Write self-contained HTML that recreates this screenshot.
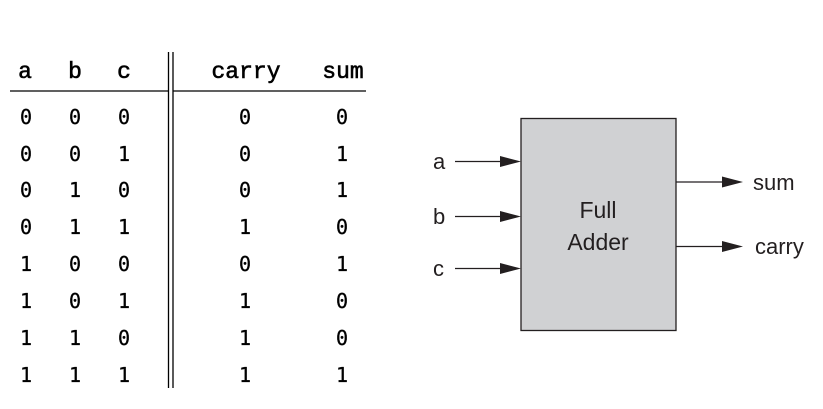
<!DOCTYPE html>
<html><head><meta charset="utf-8"><style>html,body{margin:0;padding:0;background:#fff}</style></head>
<body>
<svg width="823" height="404" xmlns="http://www.w3.org/2000/svg">
<g font-family="Liberation Mono, monospace" font-size="23" fill="#000" stroke="#000" stroke-width="0.6">
<text x="25" y="78" text-anchor="middle">a</text>
<text x="75" y="78" text-anchor="middle">b</text>
<text x="124" y="78" text-anchor="middle">c</text>
<text x="246" y="78" text-anchor="middle">carry</text>
<text x="343" y="78" text-anchor="middle">sum</text>
</g>
<line x1="10" y1="91" x2="168" y2="91" stroke="#000" stroke-width="1.3"/>
<line x1="173" y1="91" x2="366" y2="91" stroke="#000" stroke-width="1.3"/>
<line x1="168.5" y1="52" x2="168.5" y2="388" stroke="#000" stroke-width="1.3"/>
<line x1="173" y1="52" x2="173" y2="388" stroke="#000" stroke-width="1.3"/>
<g font-family="DejaVu Sans Mono, monospace" font-size="20" fill="#000" text-anchor="middle" stroke="#000" stroke-width="0.3">
<text x="26" y="124">0</text><text x="75" y="124">0</text><text x="124" y="124">0</text><text x="245" y="124">0</text><text x="342" y="124">0</text>
<text x="26" y="161">0</text><text x="75" y="161">0</text><text x="124" y="161">1</text><text x="245" y="161">0</text><text x="342" y="161">1</text>
<text x="26" y="197">0</text><text x="75" y="197">1</text><text x="124" y="197">0</text><text x="245" y="197">0</text><text x="342" y="197">1</text>
<text x="26" y="234">0</text><text x="75" y="234">1</text><text x="124" y="234">1</text><text x="245" y="234">1</text><text x="342" y="234">0</text>
<text x="26" y="271">1</text><text x="75" y="271">0</text><text x="124" y="271">0</text><text x="245" y="271">0</text><text x="342" y="271">1</text>
<text x="26" y="308">1</text><text x="75" y="308">0</text><text x="124" y="308">1</text><text x="245" y="308">1</text><text x="342" y="308">0</text>
<text x="26" y="345">1</text><text x="75" y="345">1</text><text x="124" y="345">0</text><text x="245" y="345">1</text><text x="342" y="345">0</text>
<text x="26" y="382">1</text><text x="75" y="382">1</text><text x="124" y="382">1</text><text x="245" y="382">1</text><text x="342" y="382">1</text>
</g>
<rect x="521" y="118.5" width="155" height="212" fill="#d0d1d3" stroke="#231f20" stroke-width="1.3"/>
<g font-family="Liberation Sans, sans-serif" font-size="23" fill="#231f20" text-anchor="middle">
<text x="598" y="218">Full</text>
<text x="598" y="250">Adder</text>
</g>
<g stroke="#231f20" stroke-width="1.2">
<line x1="455" y1="161.5" x2="505" y2="161.5"/>
<line x1="455" y1="216.5" x2="505" y2="216.5"/>
<line x1="455" y1="268.5" x2="505" y2="268.5"/>
<line x1="676" y1="182" x2="728" y2="182"/>
<line x1="676" y1="246.5" x2="728" y2="246.5"/>
</g>
<g fill="#231f20">
<polygon points="500,156 521,161.5 500,167"/>
<polygon points="500,211 521,216.5 500,222"/>
<polygon points="500,263 521,268.5 500,274"/>
<polygon points="722,176.5 743,182 722,187.5"/>
<polygon points="722,241 743,246.5 722,252"/>
</g>
<g font-family="Liberation Sans, sans-serif" font-size="22" fill="#231f20">
<text x="433" y="169">a</text>
<text x="433" y="224">b</text>
<text x="433" y="276">c</text>
<text x="753" y="190">sum</text>
<text x="755" y="254">carry</text>
</g>
</svg>
</body></html>
